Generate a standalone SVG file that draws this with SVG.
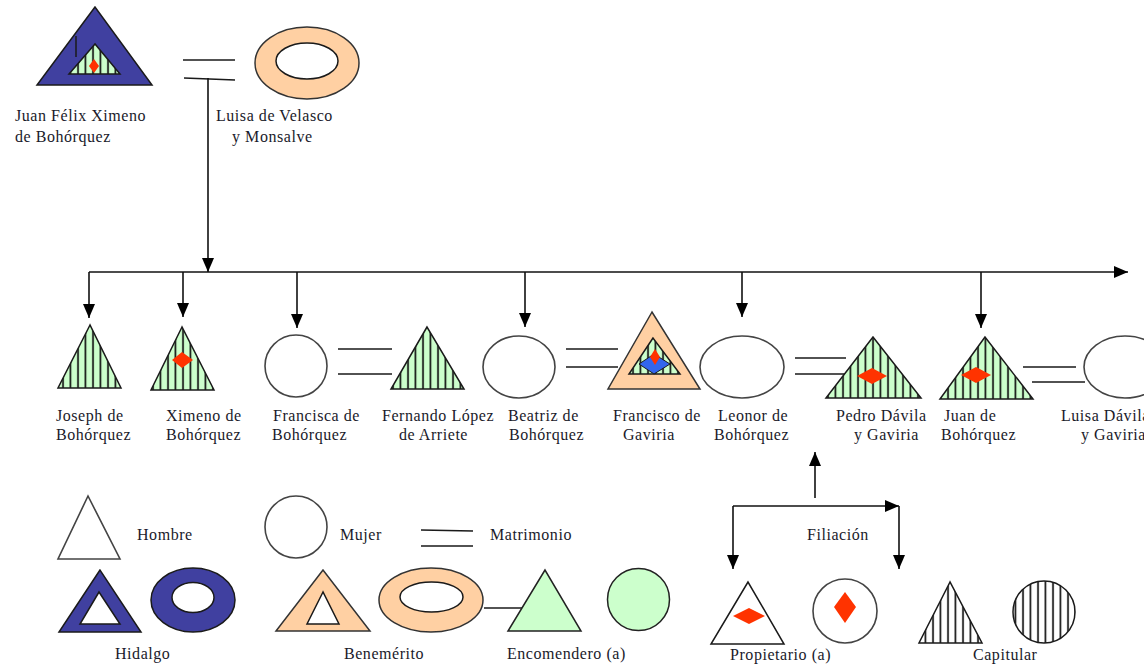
<svg xmlns="http://www.w3.org/2000/svg" width="1144" height="664" viewBox="0 0 1144 664">
<style>
text{font-family:"Liberation Serif","Times New Roman",serif;font-size:16px;fill:#1a1a2a;letter-spacing:.55px}
.s{stroke:#1a1a1a;stroke-width:1.5;fill:#fff}
.n{stroke:#444;stroke-width:1.6;fill:#fff}
.h{stroke:#1a1a1a;stroke-width:1.5;fill:url(#gh)}
.k{stroke:#1a1a1a;stroke-width:1.5;fill:url(#wh)}
.b{stroke:#1a1a1a;stroke-width:1.5;fill:#4040a0}
.o{stroke:#333;stroke-width:1.5;fill:#ffd0a3}
.g{stroke:#222;stroke-width:1.5;fill:#ccffcc}
.r{stroke:none;fill:#ff3300}
.u{stroke:#1a1a1a;stroke-width:1;fill:#3366ee}
.l{stroke:#1a1a1a;stroke-width:1.5;fill:none}
.a{stroke:#111;stroke-width:1.6;fill:none;marker-end:url(#ah)}
</style>
<defs>
<pattern id="gh" patternUnits="userSpaceOnUse" width="7.5" height="8"><rect width="7.5" height="8" fill="#ccffcc"/><line x1="3" y1="0" x2="3" y2="8" stroke="#111" stroke-width="1.7"/></pattern>
<pattern id="wh" patternUnits="userSpaceOnUse" width="7.5" height="8"><rect width="7.5" height="8" fill="#fff"/><line x1="3" y1="0" x2="3" y2="8" stroke="#111" stroke-width="1.7"/></pattern>
<marker id="ah" markerUnits="userSpaceOnUse" markerWidth="14" markerHeight="14" refX="14" refY="7" orient="auto"><path d="M0 1L14 7L0 13Z" fill="#000"/></marker>
</defs>
<g id="connectors">
<path class="l" d="M183 60H235M184 78L235 80"/>
<path class="a" d="M208 78V272"/>
<path class="a" d="M89 272H1128"/>
<path class="a" d="M89 272V318"/>
<path class="a" d="M183 272V317"/>
<path class="a" d="M297 272V328"/>
<path class="a" d="M525 272V327"/>
<path class="a" d="M742 272V317"/>
<path class="a" d="M981 272V328"/>
<path class="l" d="M338 349H392M338 374H392"/>
<path class="l" d="M566 349H618M566 367H618"/>
<path class="l" d="M795 358H846M795 374H845"/>
<path class="l" d="M1023 367H1076M1032 382H1085"/>
<path class="l" d="M421 530L473 531M421 546H473"/>
<path class="l" d="M484 608H522"/>
<path class="a" d="M815 498V452"/>
<path class="a" d="M733 506H899"/>
<path class="a" d="M733 506V569"/>
<path class="a" d="M899 506V569"/>
</g>
<g id="juan-felix"><path class="b" d="M95 7L37 85H152Z"/><path class="l" d="M76 36V57"/><path class="h" d="M95 44L69 74H120Z"/><path class="r" d="M94 59L99 66L94 73L89 66Z"/><text x="15" y="121">Juan Félix Ximeno</text><text x="15" y="142">de Bohórquez</text></g>
<g id="luisa-velasco"><ellipse class="o" cx="307" cy="63" rx="52" ry="36"/><ellipse class="s" cx="307" cy="61" rx="31" ry="18"/><text x="216" y="121">Luisa de Velasco</text><text x="232" y="142">y Monsalve</text></g>
<g id="joseph"><path class="h" d="M90 325L58 388H121Z"/><text x="56" y="421">Joseph de</text><text x="56" y="440">Bohórquez</text></g>
<g id="ximeno"><path class="h" d="M182 327L151 390H214Z"/><path class="r" d="M182 352L193 360L182 368L172 360Z"/><text x="166" y="421">Ximeno de</text><text x="166" y="440">Bohórquez</text></g>
<g id="francisca"><circle class="n" cx="296" cy="366" r="31"/><text x="273" y="421">Francisca de</text><text x="272" y="440">Bohórquez</text></g>
<g id="fernando"><path class="h" d="M427 327L391 389H464Z"/><text x="382" y="421">Fernando López</text><text x="399" y="440">de Arriete</text></g>
<g id="beatriz"><ellipse class="n" cx="519" cy="367" rx="36" ry="31"/><text x="508" y="421">Beatriz de</text><text x="509" y="440">Bohórquez</text></g>
<g id="francisco"><path class="o" d="M652 312L608 389H700Z"/><path class="h" d="M653 338L629 374H680Z"/><path class="u" d="M654 354L670 364L654 374L639 364Z"/><path class="r" d="M655 349L660 357L655 365L650 357Z"/><text x="613" y="421">Francisco de</text><text x="623" y="440">Gaviria</text></g>
<g id="leonor"><ellipse class="n" cx="742" cy="367" rx="42" ry="31"/><text x="718" y="421">Leonor de</text><text x="714" y="440">Bohórquez</text></g>
<g id="pedro"><path class="h" d="M873 337L826 398H921Z"/><path class="r" d="M872 368L887 376L872 384L857 376Z"/><text x="836" y="421">Pedro Dávila</text><text x="854" y="440">y Gaviria</text></g>
<g id="juan"><path class="h" d="M985 337L940 399H1033Z"/><path class="r" d="M976 367L991 375L976 383L961 375Z"/><text x="944" y="421">Juan de</text><text x="941" y="440">Bohórquez</text></g>
<g id="luisa-davila"><ellipse class="n" cx="1125" cy="367" rx="41" ry="31"/><text x="1061" y="421">Luisa Dávila</text><text x="1081" y="440">y Gaviria</text></g>
<g id="leg-hombre"><path class="n" d="M88 496L58 559H120Z"/><text x="137" y="540">Hombre</text></g>
<g id="leg-mujer"><circle class="n" cx="296" cy="527" r="31"/><text x="340" y="540">Mujer</text></g>
<g id="leg-matrimonio"><text x="490" y="540">Matrimonio</text></g>
<g id="leg-hidalgo"><path class="b" d="M100 570L59 632H141Z"/><path class="s" d="M99 592L80 624H120Z"/><ellipse class="b" cx="193" cy="600" rx="42" ry="32"/><ellipse class="s" cx="193" cy="597.500" rx="21" ry="15"/><text x="115" y="659">Hidalgo</text></g>
<g id="leg-benemerito"><path class="o" d="M323 570L276 631H370Z"/><path class="s" d="M323 592L307 624H339Z"/><ellipse class="o" cx="431" cy="600" rx="52" ry="32"/><ellipse class="s" cx="431.500" cy="597" rx="31.500" ry="15"/><text x="344" y="659">Benemérito</text></g>
<g id="leg-encomendero"><path class="g" d="M545 570L508 631H581Z"/><circle class="g" cx="638.500" cy="599.500" r="31"/><text x="507" y="659">Encomendero (a)</text></g>
<g id="leg-filiacion"><text x="807" y="540">Filiación</text></g>
<g id="leg-propietario"><path class="s" d="M748 582L711 644H784Z"/><path class="r" d="M749 608L765 616L749 624L733 616Z"/><circle class="n" cx="845" cy="611" r="32"/><path class="r" d="M845 592L856 607L845 623L834 607Z"/><text x="730" y="660">Propietario (a)</text></g>
<g id="leg-capitular"><path class="k" d="M950 582L919 643H982Z"/><circle class="k" cx="1044" cy="612" r="31"/><text x="973" y="660">Capitular</text></g>
</svg>
